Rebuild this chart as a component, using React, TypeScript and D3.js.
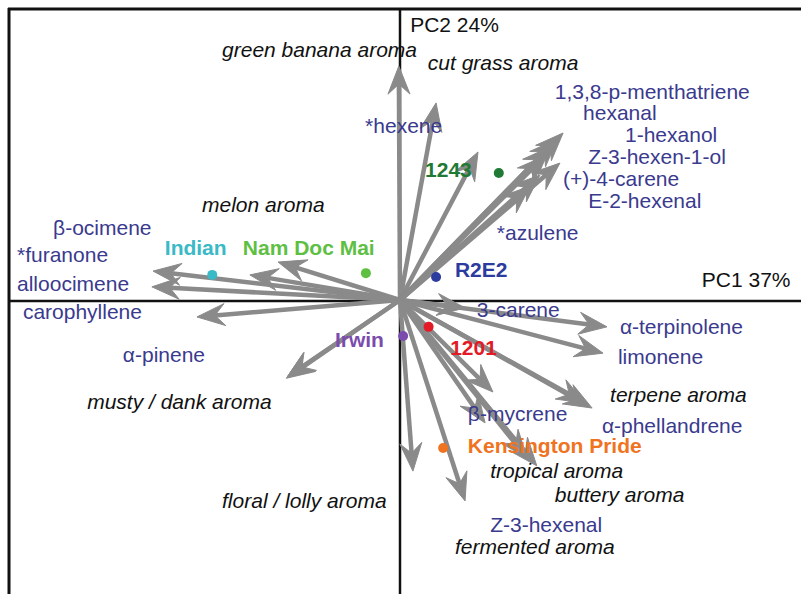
import React from "react";
import * as d3 from "d3";

// Variable loadings (PC1, PC2)
const variableNames = [
  "green banana aroma", "cut grass aroma", "*hexene",
  "1,3,8-p-menthatriene", "hexanal", "1-hexanol", "Z-3-hexen-1-ol", "(+)-4-carene", "E-2-hexenal", "*azulene",
  "β-ocimene", "alloocimene", "*furanone", "melon aroma", "carophyllene", "α-pinene", "musty / dank aroma",
  "3-carene", "α-terpinolene", "limonene", "terpene aroma", "α-phellandrene", "β-mycrene",
  "tropical aroma", "buttery aroma", "Z-3-hexenal", "fermented aroma", "floral / lolly aroma",
];
const loadingPC1 = [
  -0.003, 0.092, 0.199,
  0.416, 0.401, 0.383, 0.370, 0.408, 0.357, 0.332,
  -0.630, -0.633, -0.383, -0.311, -0.518, -0.288, -0.290,
  0.166, 0.528, 0.518, 0.490, 0.472, 0.237,
  0.349, 0.324, 0.166, 0.217, 0.033,
];
const loadingPC2 = [
  0.801, 0.675, 0.507,
  0.572, 0.551, 0.524, 0.493, 0.469, 0.428, 0.390,
  0.099, 0.045, 0.086, 0.130, -0.058, -0.264, -0.268,
  -0.027, -0.092, -0.182, -0.370, -0.353, -0.315,
  -0.568, -0.541, -0.688, -0.421, -0.586,
];

// Sample scores
const sampleNames = ["Indian", "Nam Doc Mai", "1243", "R2E2", "1201", "Irwin", "Kensington Pride"];
const scorePC1 = [-0.479, -0.087, 0.252, 0.092, 0.073, 0.008, 0.110];
const scorePC2 = [0.086, 0.092, 0.435, 0.079, -0.092, -0.123, -0.507];

// Label placement (data coordinates of text start / baseline)
const labelText = [
  "green banana aroma", "cut grass aroma", "*hexene",
  "1,3,8-p-menthatriene", "hexanal", "1-hexanol", "Z-3-hexen-1-ol", "(+)-4-carene", "E-2-hexenal", "*azulene",
  "β-ocimene", "*furanone", "alloocimene", "melon aroma", "carophyllene", "α-pinene", "musty / dank aroma",
  "3-carene", "α-terpinolene", "limonene", "terpene aroma", "α-phellandrene", "β-mycrene",
  "tropical aroma", "buttery aroma", "Z-3-hexenal", "fermented aroma", "floral / lolly aroma",
];
const labelPC1 = [
  -0.454, 0.071, -0.089,
  0.395, 0.467, 0.574, 0.480, 0.416, 0.480, 0.247,
  -0.885, -0.977, -0.977, -0.505, -0.962, -0.707, -0.798,
  0.196, 0.561, 0.556, 0.536, 0.515, 0.173,
  0.230, 0.395, 0.230, 0.140, -0.454,
];
const labelPC2 = [
  0.832, 0.788, 0.572,
  0.688, 0.616, 0.541, 0.466, 0.390, 0.316, 0.205,
  0.223, 0.130, 0.031, 0.301, -0.065, -0.212, -0.373,
  -0.058, -0.116, -0.219, -0.349, -0.455, -0.414,
  -0.610, -0.692, -0.795, -0.870, -0.712,
];
const labelKind = [
  "aroma", "aroma", "compound",
  "compound", "compound", "compound", "compound", "compound", "compound", "compound",
  "compound", "compound", "compound", "aroma", "compound", "compound", "aroma",
  "compound", "compound", "compound", "aroma", "compound", "compound",
  "aroma", "aroma", "compound", "aroma", "aroma",
];

const sampleLabelPC1 = [-0.600, -0.401, 0.064, 0.140, 0.128, -0.166, 0.173];
const sampleLabelPC2 = [0.154, 0.154, 0.421, 0.079, -0.188, -0.161, -0.524];
const sampleColors = ["#3ab9c6", "#5ec043", "#1f7a35", "#2c3b9e", "#e31b26", "#7b4cae", "#f0731f"];

const axisTitles = ["PC1 37%", "PC2 24%"];

const W = 801;
const H = 594;

export default function App() {
  const x = d3.scaleLinear().domain([-1, 1]).range([8, 792]);
  const y = d3.scaleLinear().domain([-1, 1]).range([592, 8]);
  const ox = x(0);
  const oy = y(0);
  const font = "'Liberation Sans', Arial, sans-serif";
  const arrowColor = "#8a8a8a";

  const headLen = 28;
  const headHalf = 11;
  const notch = 10;

  const arrows = variableNames.map((n, i) => {
    const tx = x(loadingPC1[i]);
    const ty = y(loadingPC2[i]);
    const dx = tx - ox;
    const dy = ty - oy;
    const len = Math.hypot(dx, dy);
    const ux = dx / len;
    const uy = dy / len;
    const px = -uy;
    const py = ux;
    const bx = tx - ux * headLen;
    const by = ty - uy * headLen;
    const nx = tx - ux * (headLen - notch);
    const ny = ty - uy * (headLen - notch);
    const head = [
      [tx, ty],
      [bx + px * headHalf, by + py * headHalf],
      [nx, ny],
      [bx - px * headHalf, by - py * headHalf],
    ];
    return { n, ox, oy, sx: nx, sy: ny, head };
  });

  const line = d3.line();

  return (
    <svg width={W} height={H} style={{ position: "absolute", left: 0, top: 0, background: "#fff" }}>
      <rect x={0} y={0} width={W} height={H} fill="#fff" />
      {/* frame */}
      <line x1={8} y1={9} x2={W} y2={9} stroke="#111" strokeWidth={3} />
      <line x1={9} y1={8} x2={9} y2={H} stroke="#111" strokeWidth={3} />
      {/* axes */}
      <line x1={ox} y1={8} x2={ox} y2={H} stroke="#111" strokeWidth={2.5} />
      <line x1={8} y1={oy + 1} x2={W} y2={oy + 1} stroke="#111" strokeWidth={2.5} />

      {/* arrows */}
      <g>
        {arrows.map((a, i) => (
          <g key={i}>
            <line x1={a.ox} y1={a.oy} x2={a.sx} y2={a.sy} stroke={arrowColor} strokeWidth={4.5} />
            <path d={line(a.head as [number, number][]) + "Z"} fill={arrowColor} stroke={arrowColor} strokeWidth={1} strokeLinejoin="miter" />
          </g>
        ))}
      </g>

      {/* variable labels */}
      {labelText.map((t, i) => (
        <text
          key={i}
          x={x(labelPC1[i])}
          y={y(labelPC2[i])}
          fontFamily={font}
          fontSize={21}
          fontStyle={labelKind[i] === "aroma" ? "italic" : "normal"}
          fill={labelKind[i] === "aroma" ? "#111" : "#3a3a8e"}
        >
          {t}
        </text>
      ))}

      {/* samples */}
      {sampleNames.map((s, i) => (
        <g key={s}>
          <circle cx={x(scorePC1[i])} cy={y(scorePC2[i])} r={5} fill={sampleColors[i]} />
          <text
            x={x(sampleLabelPC1[i])}
            y={y(sampleLabelPC2[i])}
            fontFamily={font}
            fontSize={21}
            fontWeight="bold"
            fill={sampleColors[i]}
          >
            {s}
          </text>
        </g>
      ))}

      {/* axis titles */}
      <text x={x(0.770)} y={y(0.045)} fontFamily={font} fontSize={21} fill="#111">{axisTitles[0]}</text>
      <text x={x(0.026)} y={y(0.918)} fontFamily={font} fontSize={21} fill="#111">{axisTitles[1]}</text>
    </svg>
  );
}
